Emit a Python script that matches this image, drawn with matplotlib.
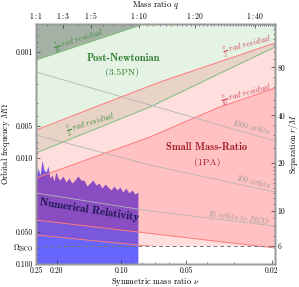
import numpy as np
import matplotlib
matplotlib.use('Agg')
import matplotlib.pyplot as plt
from matplotlib.patches import Rectangle
from matplotlib.ticker import NullFormatter, FixedLocator

plt.rcParams['font.family'] = 'serif'
plt.rcParams['font.serif'] = ['cmr10']
plt.rcParams['mathtext.fontset'] = 'cm'
plt.rcParams['axes.formatter.use_mathtext'] = True

# axis ranges
nu_left, nu_right = 0.25, 0.0193
om_top, om_bottom = 0.000544, 0.1
om_isco = 6 ** -1.5

# boundary curves (nu, M*Omega)
pn_tenth_nu = [0.25, 0.0193]
pn_tenth_om = [0.00119, 0.00021]
pn_half_nu = [0.25, 0.07375, 0.0193]
pn_half_om = [0.00897, 0.00330, 0.000897]

smr_half_up_nu = [0.25, 0.1096, 0.0663, 0.0193]
smr_half_up_om = [0.00544, 0.00284, 0.00192, 0.00082]
smr_tenth_up_nu = [0.25, 0.07375, 0.0360, 0.0193]
smr_tenth_up_om = [0.01544, 0.00634, 0.00338, 0.00219]
smr_tenth_lo_nu = [0.25, 0.0839, 0.0193]
smr_tenth_lo_om = [0.03845, 0.04989, 0.07064]
smr_half_lo_nu = [0.25, 0.0839, 0.0193]
smr_half_lo_om = [0.05324, 0.06618, 0.08778]

# orbits-to-ISCO contours
orb_nu = [0.25, 0.07375, 0.0193]
orb1000_om = [0.00154, 0.00316, 0.00691]
orb100_om = [0.00607, 0.01164, 0.02093]
orb10_om = [0.02139, 0.03162, 0.04381]

# numerical relativity coverage (top edge)
nr_nu = [0.250, 0.2447, 0.2394, 0.2344, 0.2294, 0.2245, 0.2198, 0.2152,
         0.2106, 0.2061, 0.2018, 0.1975, 0.1933, 0.1872, 0.1813, 0.1756,
         0.1700, 0.1647, 0.1594, 0.1544, 0.1495, 0.1448, 0.1402, 0.1358,
         0.1315, 0.1273, 0.1233, 0.1194, 0.1156, 0.1120, 0.1084, 0.1050,
         0.1017, 0.0985, 0.0954, 0.0924, 0.0894, 0.0866, 0.0839]
nr_om = [0.01479, 0.01242, 0.01447, 0.01044, 0.01297, 0.01355, 0.01190, 0.01544,
         0.01447, 0.01648, 0.01355, 0.01544, 0.01613, 0.01479, 0.01684, 0.01544,
         0.01721, 0.01613, 0.01479, 0.01613, 0.01613, 0.01837, 0.01721, 0.01613,
         0.01798, 0.01721, 0.01919, 0.01759, 0.01877, 0.02003, 0.01837, 0.02003,
         0.01877, 0.02093, 0.01919, 0.02139, 0.02003, 0.02186, 0.02093]

# tick values
nu_ticks = [0.25, 0.20, 0.10, 0.05, 0.02]
nu_labels = ['0.25', '0.20', '0.10', '0.05', '0.02']
om_ticks = [0.001, 0.005, 0.010, 0.050, om_isco, 0.100]
om_labels = ['0.001', '0.005', '0.010', '0.050', r'$\Omega_{\rm ISCO}$', '0.100']
q_major = [1, 3, 5, 10, 20, 40]
q_minor = [n for n in range(2, 51) if n not in q_major]
r_major = [80, 40, 20, 10, 6]
r_minor = [7, 8, 9, 11, 12, 13, 14, 15, 16, 17, 18, 19, 25, 30, 35, 45,
           50, 60, 70, 90, 100, 110, 120, 130, 140, 150]

fig = plt.figure(figsize=(2.99, 2.87), dpi=100)
ax = fig.add_axes([0.1204, 0.0801, 0.7993, 0.8362])
ax.set_xscale('log')
ax.set_yscale('log')
ax.set_xlim(nu_left, nu_right)
ax.set_ylim(om_bottom, om_top)

green = '#2ca02c'
far = 1e-5
clip = Rectangle((0.001, 1e-6), 10, om_isco - 1e-6, transform=ax.transData)

# PN regions
ax.fill(pn_half_nu + [nu_right, nu_left], pn_half_om + [far, far],
        color=green, alpha=0.12, lw=0, zorder=1)
ax.fill(pn_tenth_nu + [nu_right, nu_left], pn_tenth_om + [far, far],
        color='#5a625a', alpha=0.45, lw=0, zorder=1)

# NR region (under the SMR shading)
ax.fill_between(nr_nu, nr_om, 0.2, color='#0000ff', alpha=0.6, lw=0, zorder=1.5)

# SMR regions
p1 = ax.fill(smr_half_up_nu + smr_half_lo_nu[::-1], smr_half_up_om + smr_half_lo_om[::-1],
             color='red', alpha=0.13, lw=0, zorder=2)[0]
p1.set_clip_path(clip)
p2 = ax.fill(smr_tenth_up_nu + smr_tenth_lo_nu[::-1], smr_tenth_up_om + smr_tenth_lo_om[::-1],
             color='red', alpha=0.13, lw=0, zorder=2)[0]
p2.set_clip_path(clip)

# boundary lines
ax.plot(pn_tenth_nu, pn_tenth_om, color='#7cbf7c', lw=0.7, zorder=4)
ax.plot(pn_half_nu, pn_half_om, color='#7cbf7c', lw=0.7, zorder=4)
ax.plot(smr_half_up_nu, smr_half_up_om, color='#ff7a7a', lw=0.7, zorder=4)
ax.plot(smr_tenth_up_nu, smr_tenth_up_om, color='#ff7a7a', lw=0.7, zorder=4)
ax.plot(smr_tenth_lo_nu, smr_tenth_lo_om, color='#ff7a7a', lw=0.7, zorder=4)
l4, = ax.plot(smr_half_lo_nu, smr_half_lo_om, color='#ff7a7a', lw=0.7, zorder=4)
l4.set_clip_path(clip)

for om in (orb1000_om, orb100_om, orb10_om):
    ax.plot(orb_nu, om, color='#b5b5b5', lw=0.6, zorder=4)

ax.axhline(om_isco, color='#777777', lw=0.7, ls=(0, (4, 3)), zorder=4)

# text annotations
ax.text(0.364, 0.858, 'Post-Newtonian', transform=ax.transAxes, ha='center', va='center',
        fontsize=7.5, family='cmb10', color='#2a7a2a', zorder=6)
ax.text(0.360, 0.796, '(3.5PN)', transform=ax.transAxes, ha='center', va='center',
        fontsize=7, color='#2a7a2a', zorder=6)
ax.text(0.715, 0.487, 'Small Mass-Ratio', transform=ax.transAxes, ha='center', va='center',
        fontsize=7.5, family='cmb10', color='#a01c28', zorder=6)
ax.text(0.715, 0.421, '(1PA)', transform=ax.transAxes, ha='center', va='center',
        fontsize=7, color='#a01c28', zorder=6)
ax.text(0.222, 0.225, 'Numerical Relativity', transform=ax.transAxes, ha='center', va='center',
        fontsize=7.8, family='cmb10', color='#14144a', rotation=-9, zorder=6)

lab = dict(transform=ax.transAxes, ha='center', va='center', fontsize=5.6, zorder=6)
ax.text(0.180, 0.929, r'$\frac{\pi}{10}$ $\mathit{rad\ residual}$', color='#3c8c3c', rotation=17, **lab)
ax.text(0.232, 0.579, r'$\frac{\pi}{2}$ $\mathit{rad\ residual}$', color='#3c8c3c', rotation=17, **lab)
ax.text(0.885, 0.904, r'$\frac{\pi}{2}$ $\mathit{rad\ residual}$', color='#d04050', rotation=15, **lab)
ax.text(0.882, 0.704, r'$\frac{\pi}{10}$ $\mathit{rad\ residual}$', color='#d04050', rotation=15, **lab)
ax.text(0.900, 0.571, r'$1000$ $\mathit{orbits}$', color='#999999', rotation=-14, **lab)
ax.text(0.908, 0.342, r'$100$ $\mathit{orbits}$', color='#999999', rotation=-14, **lab)
ax.text(0.850, 0.196, r'$10$ $\mathit{orbits\ to\ ISCO}$', color='#999999', rotation=-8, **lab)

# bottom / left ticks
ax.set_xticks(nu_ticks, nu_labels)
ax.xaxis.set_minor_formatter(NullFormatter())
ax.set_yticks(om_ticks, om_labels)
ax.yaxis.set_minor_formatter(NullFormatter())
ax.set_xlabel(r'Symmetric mass ratio $\nu$', fontsize=6.0, labelpad=0.5)
ax.set_ylabel(r'Orbital frequency $M\Omega$', fontsize=6.0, labelpad=0.5)

# top axis: mass ratio
tax = ax.twiny()
tax.set_xscale('log')
tax.set_xlim(nu_left, nu_right)
tax.set_xticks([n / (n + 1) ** 2 for n in q_major], [r'$1:%d$' % n for n in q_major])
tax.xaxis.set_minor_locator(FixedLocator([n / (n + 1) ** 2 for n in q_minor]))
tax.xaxis.set_minor_formatter(NullFormatter())
tax.set_xlabel(r'Mass ratio $q$', fontsize=6.0, labelpad=2)

# right axis: separation
rax = ax.twinx()
rax.set_yscale('log')
rax.set_ylim(om_bottom, om_top)
rax.set_yticks([r ** -1.5 for r in r_major], [str(r) for r in r_major])
rax.yaxis.set_minor_locator(FixedLocator([r ** -1.5 for r in r_minor]))
rax.yaxis.set_minor_formatter(NullFormatter())
rax.set_ylabel(r'Separation $r/M$', fontsize=6.0, labelpad=1.5)

for a in (ax, tax, rax):
    a.tick_params(which='both', direction='in', labelsize=5.5, pad=2, color='#333333')
    a.tick_params(which='major', length=3, width=0.5)
    a.tick_params(which='minor', length=1.6, width=0.4)
    for s in a.spines.values():
        s.set_color('#999999')
        s.set_linewidth(1.0)

fig.savefig('out.png', dpi=100)
